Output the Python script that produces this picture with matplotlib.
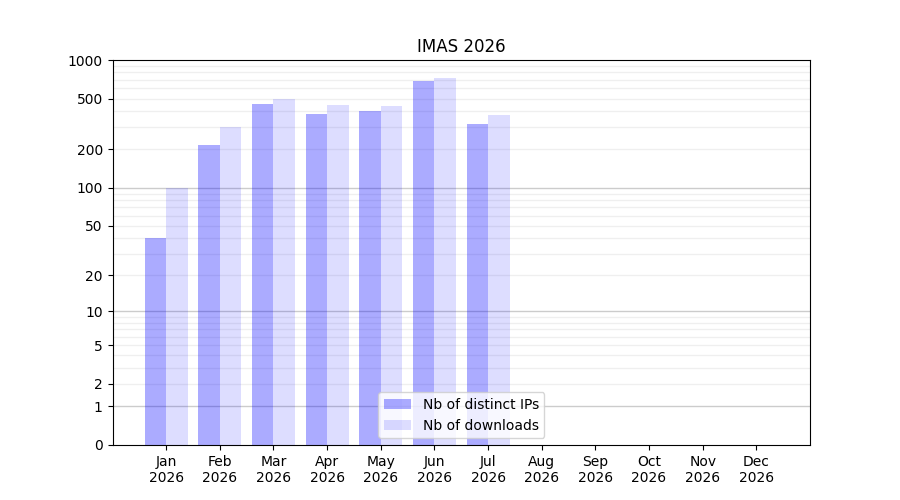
import matplotlib
matplotlib.use('Agg')
import matplotlib.pyplot as plt
import numpy as np

months = ['Jan', 'Feb', 'Mar', 'Apr', 'May', 'Jun', 'Jul', 'Aug', 'Sep', 'Oct', 'Nov', 'Dec']
year = 2026
distinct_ips = [40, 218, 455, 380, 400, 688, 318, 0, 0, 0, 0, 0]
downloads = [100, 300, 497, 447, 440, 725, 373, 0, 0, 0, 0, 0]
yticks = [0, 1, 2, 5, 10, 20, 50, 100, 200, 500, 1000]


def fwd(y):
    return np.log10(np.clip(y, 0, None) + 1)


def inv(y):
    return 10 ** y - 1


fig, ax = plt.subplots(figsize=(9, 5), dpi=100)
ax.set_yscale('function', functions=(fwd, inv))

# grid lines: darker at each decade, lighter in between
for d in [1, 10, 100]:
    ax.axhline(d, color='0.5', alpha=0.4, lw=1, zorder=0)
    for k in range(2, 10):
        ax.axhline(d * k, color='0.5', alpha=0.12, lw=1, zorder=0)

x = np.arange(len(months))
w = 0.4
ax.bar(x - w, distinct_ips, w, align='edge', color='blue', alpha=0.33,
       label='Nb of distinct IPs', zorder=1)
ax.bar(x, downloads, w, align='edge', color='blue', alpha=0.135,
       label='Nb of downloads', zorder=1)

ax.set_xticks(x)
ax.set_xticklabels([m + '\n' + str(year) for m in months])
ax.set_xlim(-1, 12)
ax.set_ylim(0, 1000)
ax.set_yticks(yticks)
ax.set_yticklabels([str(t) for t in yticks])
ax.yaxis.set_minor_locator(matplotlib.ticker.NullLocator())
ax.set_title('IMAS %d' % year)
ax.legend(loc='lower center')

plt.savefig('out.png', dpi=100)
